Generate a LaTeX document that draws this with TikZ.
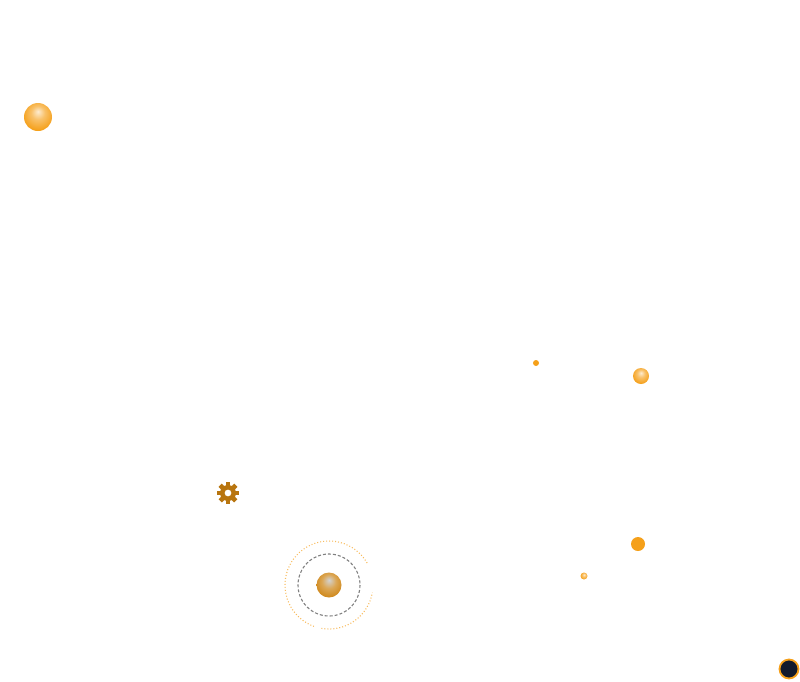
\documentclass[tikz,border=0pt]{standalone}
\usetikzlibrary{positioning}
\definecolor{orng}{HTML}{F5A01A}
\definecolor{gold}{HTML}{D08A1E}
\definecolor{gearc}{HTML}{B8750F}
\definecolor{navy}{HTML}{121A2C}
\pgfdeclareradialshading{orngball}{\pgfpoint{0bp}{10bp}}{color(0bp)=(orng!20!white); color(12bp)=(orng!65!white); color(28bp)=(orng); color(50bp)=(orng)}
\pgfdeclareradialshading{goldball}{\pgfpoint{0bp}{10bp}}{color(0bp)=(gray!35!white); color(14bp)=(gold!75!white); color(28bp)=(gold); color(50bp)=(gold)}
\tikzset{
	ball/.style={circle, inner sep=0pt, shading=orngball, draw=none},
	dot/.style={circle, inner sep=0pt, fill=orng, draw=none},
}
\begin{document}
\begin{tikzpicture}[x=1pt, y=-1pt]
	\useasboundingbox (0,0) rectangle (800,681);
	
	\node (bigball) [ball, minimum size=28pt] at (38,117) {};
	\node (spark) [dot, minimum size=6pt] at (536,363) {};
	\node (midball) [ball, minimum size=16pt] at (641,376) {};
	\node (rdot) [dot, minimum size=14pt] at (638,544) {};
	\node (tinyball) [ball, minimum size=7pt] at (584,576) {};
	\node (core) [circle, inner sep=0pt, minimum size=25pt, shading=goldball] at (329,585) {};
	\node (navydot) [circle, inner sep=0pt, minimum size=19pt, fill=navy, draw=orng, line width=1.8pt] at (789,669) {};
	
	% rings round the core
	\draw[gray, line width=1.1pt, dash pattern=on 3pt off 2pt] (core.center) circle (31);
	\draw[orng!70, line width=1.1pt, dash pattern=on 1pt off 2pt] (core.center) ++(100:44) arc[start angle=100, end angle=10, radius=44];
	\draw[orng!70, line width=1.1pt, dash pattern=on 1pt off 2pt] (core.center) ++(-30:44) arc[start angle=-30, end angle=-250, radius=44];
	
	% gear
	\coordinate (gear) at (228,493);
	\begin{scope}[shift={(gear)}]
		\fill[gearc, even odd rule] (0,0) circle (8) (0,0) circle (3.5);
		\foreach \a in {0,45,...,315}
			\fill[gearc, rotate=\a] (-2.3,6.5) rectangle (2.3,11);
	\end{scope}
\end{tikzpicture}
\end{document}
